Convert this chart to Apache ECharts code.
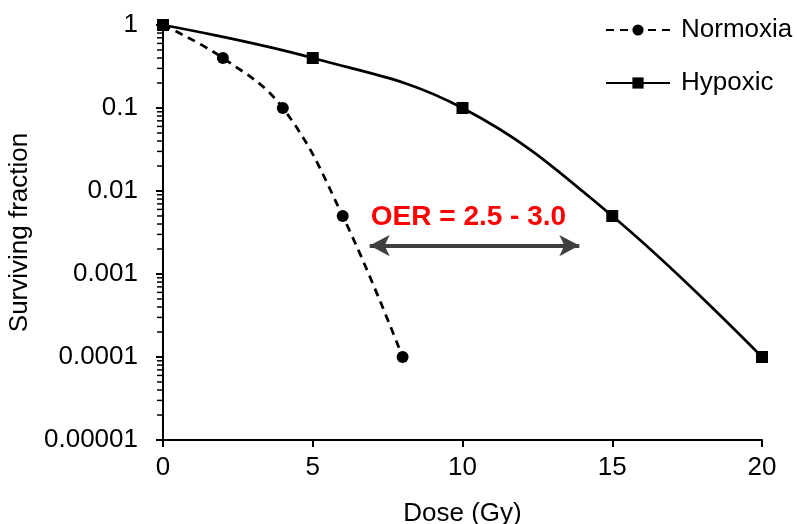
<!DOCTYPE html>
<html>
<head>
<meta charset="utf-8">
<script src="https://cdn.jsdelivr.net/npm/echarts@6/dist/echarts.min.js"></script>
<style>
  html, body { margin: 0; padding: 0; background: #ffffff; }
  #chart { width: 797px; height: 524px; }
</style>
</head>
<body>
<div id="chart"></div>
<script>
// Cell survival curves: surviving fraction vs. dose
const normoxiaDose = [0, 2, 4, 6, 8];
const normoxiaSF   = [1, 0.4, 0.1, 0.005, 0.0001];
const hypoxicDose  = [0, 5, 10, 15, 20];
const hypoxicSF    = [1, 0.4, 0.1, 0.005, 0.0001];

const xTicks = [0, 5, 10, 15, 20];
const yTickValues = [1, 0.1, 0.01, 0.001, 0.0001, 0.00001];
const yTickLabels = ['1', '0.1', '0.01', '0.001', '0.0001', '0.00001'];

// OER annotation: double arrow between the curves
const oerArrowDose = [6.9, 13.9];
const oerArrowSF = 0.0022;
const oerText = 'OER = 2.5 - 3.0';

// log-spaced minor ticks (2..9 within each decade)
const minorTicks = [];
for (let e = -5; e < 0; e++) {
  for (let m = 2; m <= 9; m++) minorTicks.push(+(m * Math.pow(10, e)).toPrecision(3));
}

const FONT = "'Liberation Sans', Arial, sans-serif";
const FS = 26;

const chart = echarts.init(document.getElementById('chart'), null, { renderer: 'canvas' });

const yLabel = v => {
  for (let i = 0; i < yTickValues.length; i++) {
    if (Math.abs(Math.log10(v) - Math.log10(yTickValues[i])) < 1e-6) return yTickLabels[i];
  }
  return '';
};

chart.setOption({
  animation: false,
  backgroundColor: '#ffffff',
  grid: { left: 163, right: 35, top: 25, bottom: 84, containLabel: false, outerBoundsMode: 'none' },
  legend: {
    orient: 'vertical',
    left: 600,
    top: 12,
    itemWidth: 64,
    itemHeight: 14,
    itemGap: 27,
    textStyle: { fontFamily: FONT, fontSize: FS, color: '#000', padding: [0, 0, 0, 6] },
    data: ['Normoxia', 'Hypoxic']
  },
  xAxis: {
    type: 'value',
    min: 0, max: 20, interval: 5,
    name: 'Dose (Gy)',
    nameLocation: 'middle',
    nameGap: 61,
    nameTextStyle: { fontFamily: FONT, fontSize: FS, color: '#000' },
    axisLine: { show: true, onZero: false, lineStyle: { color: '#000', width: 2 } },
    axisTick: { show: true, inside: false, length: 7, lineStyle: { color: '#000', width: 2 } },
    axisLabel: { fontFamily: FONT, fontSize: FS, color: '#000', margin: 15,
      formatter: v => xTicks.includes(v) ? String(v) : '' },
    splitLine: { show: false }
  },
  yAxis: {
    type: 'log',
    logBase: 10,
    min: 0.00001, max: 1,
    name: 'Surviving fraction',
    nameLocation: 'middle',
    nameGap: 121,
    nameRotate: 90,
    nameTextStyle: { fontFamily: FONT, fontSize: FS, color: '#000' },
    axisLine: { show: true, onZero: false, lineStyle: { color: '#000', width: 2 } },
    axisTick: { show: true, inside: false, length: 7, lineStyle: { color: '#000', width: 2 } },
    axisLabel: { fontFamily: FONT, fontSize: FS, color: '#000', margin: 25, formatter: yLabel },
    splitLine: { show: false }
  },
  series: [{
    // minor ticks of the log axis, placed through the axis scale
    type: 'custom',
    coordinateSystem: 'cartesian2d',
    silent: true,
    clip: false,
    data: minorTicks.map(v => [0, v]),
    renderItem: (params, api) => {
      const p = api.coord([0, api.value(1)]);
      return {
        type: 'line',
        shape: { x1: p[0] - 6, y1: p[1], x2: p[0], y2: p[1] },
        style: { stroke: '#000', lineWidth: 1.5 }
      };
    },
    z: 1
  }, {
    name: 'Normoxia',
    type: 'line',
    smooth: 0.4,
    symbol: 'circle',
    symbolSize: 12,
    itemStyle: { color: '#000' },
    lineStyle: { color: '#000', width: 2.75, type: [8, 6] },
    data: normoxiaDose.map((d, i) => [d, normoxiaSF[i]]),
    z: 3
  }, {
    name: 'Hypoxic',
    type: 'line',
    smooth: 0.4,
    symbol: 'rect',
    symbolSize: 12,
    itemStyle: { color: '#000' },
    lineStyle: { color: '#000', width: 2.75 },
    data: hypoxicDose.map((d, i) => [d, hypoxicSF[i]]),
    z: 3,
    markLine: {
      silent: true,
      symbol: ['arrow', 'arrow'],
      symbolSize: [16, 20],
      lineStyle: { color: '#404040', width: 4, type: 'solid' },
      label: {
        show: true,
        position: 'insideMiddleTop',
        distance: 14,
        offset: [-6, 0],
        formatter: oerText,
        fontFamily: FONT,
        fontSize: 28,
        fontWeight: 'bold',
        color: '#ff0000'
      },
      data: [[
        { coord: [oerArrowDose[0], oerArrowSF] },
        { coord: [oerArrowDose[1], oerArrowSF] }
      ]]
    }
  }]
});
</script>
</body>
</html>
